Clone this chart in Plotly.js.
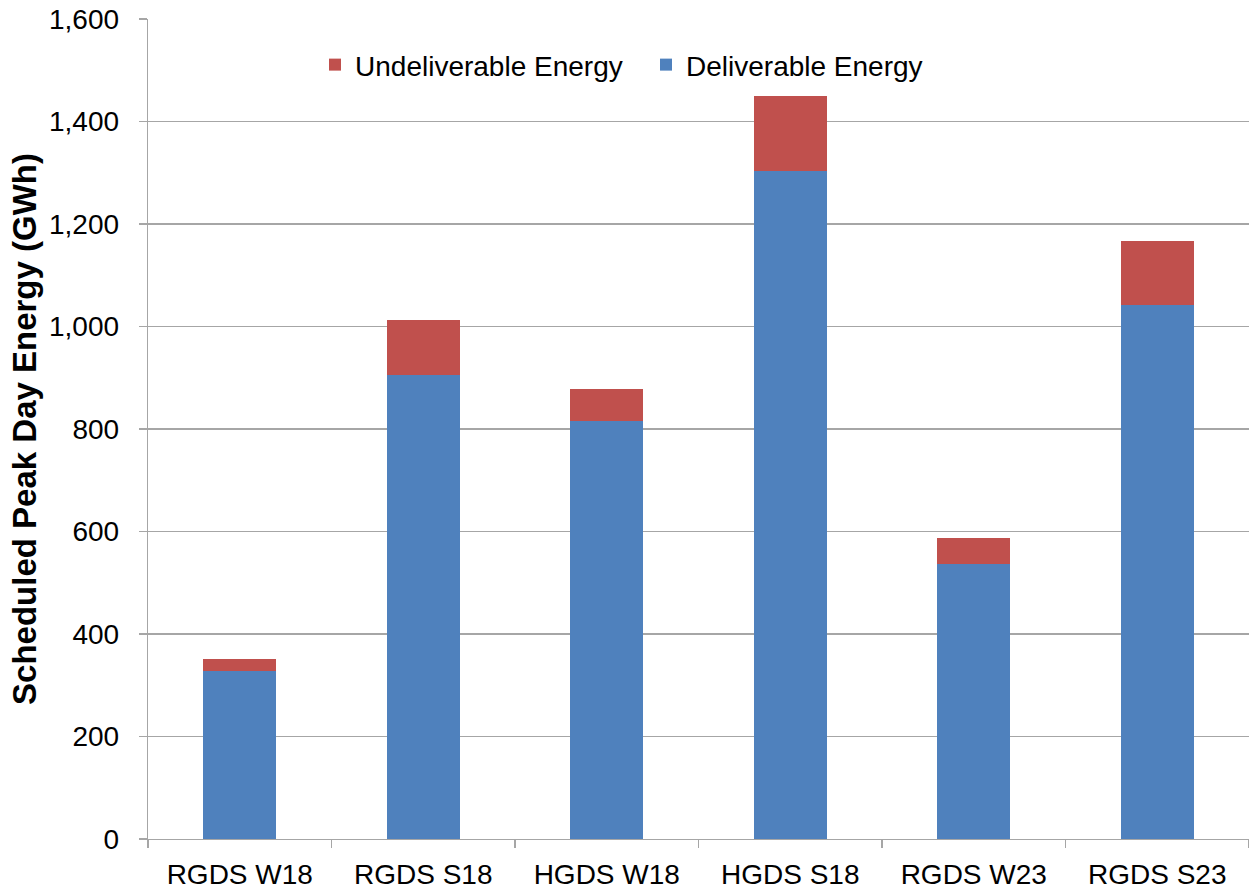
<!DOCTYPE html>
<html>
<head>
<meta charset="utf-8">
<script src="https://cdn.plot.ly/plotly-3.0.1.min.js"></script>
<style>html,body{margin:0;padding:0;background:#fff;}#chart{width:1249px;height:891px;}</style>
</head>
<body>
<div id="chart"></div>
<script>
const categories = ['RGDS W18', 'RGDS S18', 'HGDS W18', 'HGDS S18', 'RGDS W23', 'RGDS S23'];
const deliverable = [327, 905, 816, 1303, 536, 1041];
const undeliverable = [24, 107, 62, 146, 51, 125];
const yTickValues = [0, 200, 400, 600, 800, 1000, 1200, 1400, 1600];

const FONT = 'Liberation Sans, Arial, sans-serif';
const GRID = '#a6a6a6';

const traces = [
  {
    type: 'bar', name: 'Deliverable Energy', x: categories, y: deliverable,
    marker: {color: '#4f81bd', line: {width: 0}}
  },
  {
    type: 'bar', name: 'Undeliverable Energy', x: categories, y: undeliverable,
    marker: {color: '#c0504d', line: {width: 0}}
  }
];

const layout = {
  width: 1249, height: 891,
  margin: {l: 148, r: 0, t: 19, b: 52},
  barmode: 'stack',
  bargap: 0.6,
  paper_bgcolor: '#fff', plot_bgcolor: '#fff',
  font: {family: FONT, size: 28, color: '#000'},
  showlegend: true,
  legend: {
    orientation: 'h', traceorder: 'reversed',
    x: 0.1517, xanchor: 'left', y: 0.944, yanchor: 'middle',
    font: {family: FONT, size: 28, color: '#000'},
    bgcolor: 'rgba(0,0,0,0)', entrywidth: 286, entrywidthmode: 'pixels'
  },
  xaxis: {
    type: 'category', showline: true, linecolor: GRID, linewidth: 1.3,
    ticks: 'outside', tickson: 'boundaries', ticklen: 8, tickcolor: GRID, tickwidth: 1.3,
    showgrid: false, zeroline: false,
    tickfont: {family: FONT, size: 28, color: '#000'},
    ticklabelstandoff: 10,
    automargin: false
  },
  yaxis: {
    range: [0, 1600], tickvals: yTickValues, tickformat: ',d',
    showline: true, linecolor: GRID, linewidth: 1.3,
    ticks: 'outside', ticklen: 8, tickcolor: GRID, tickwidth: 1.3,
    showgrid: true, gridcolor: GRID, gridwidth: 1.3, zeroline: false,
    tickfont: {family: FONT, size: 28, color: '#000'},
    ticklabelstandoff: 14,
    automargin: false,
    title: {text: 'Scheduled Peak Day Energy (GWh)', font: {family: FONT, size: 33, color: '#000', weight: 'bold'}, standoff: 2}
  }
};

Plotly.newPlot('chart', traces, layout, {displayModeBar: false, staticPlot: true});
</script>
</body>
</html>
